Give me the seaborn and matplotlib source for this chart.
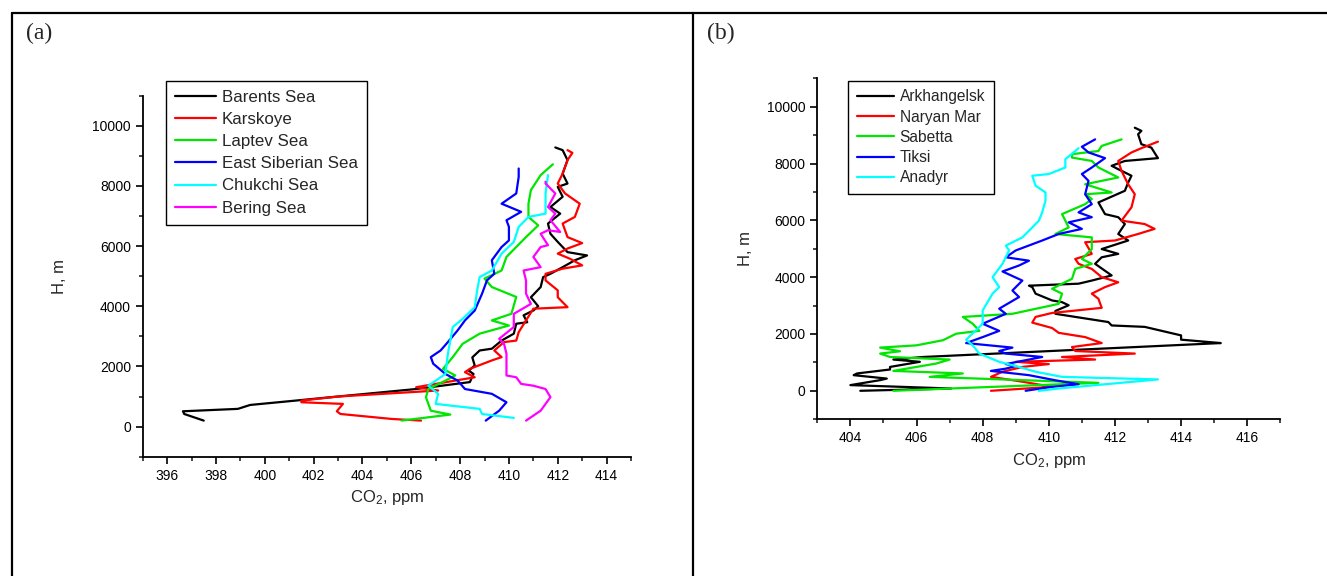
"""CO2 vertical profiles over Arctic seas (a) and coastal stations (b)."""

import seaborn as sns
import matplotlib.pyplot as plt
import pandas as pd
from matplotlib.lines import Line2D
from matplotlib.ticker import MultipleLocator

sns.set_theme(style="ticks")
plt.rcParams['font.family'] = ['Liberation Sans', 'DejaVu Sans']
plt.rcParams['mathtext.fontset'] = 'custom'
plt.rcParams['mathtext.rm'] = 'Liberation Sans'
plt.rcParams['mathtext.it'] = 'Liberation Sans:italic'

# ── Panel (a): seas ────────────────────────────────────────────
seas = ['Barents Sea', 'Karskoye', 'Laptev Sea', 'East Siberian Sea',
        'Chukchi Sea', 'Bering Sea']

barents_co2 = [397.5, 396.7, 396.65, 398.9, 399.4, 406.2, 408.4, 408.55, 408.35,
               408.6, 408.5, 408.8, 409.3, 409.7, 410.2, 410.3, 410.75, 410.6,
               411.0, 411.2, 410.9, 411.3, 411.4, 411.7, 412.2, 412.7, 413.2,
               412.4, 412.0, 411.7, 411.6, 412.1, 411.7, 412.2, 412.0, 412.4,
               412.2, 412.4, 412.2, 411.9]
barents_h = [200, 420, 510, 590, 720, 1250, 1480, 1750, 1860, 2030, 2300, 2530,
             2590, 2860, 3090, 3420, 3470, 3700, 3860, 4000, 4300, 4640, 4970,
             5080, 5300, 5530, 5690, 5800, 6140, 6410, 6750, 7080, 7300, 7640,
             7970, 8080, 8410, 8860, 9190, 9280]

kara_co2 = [406.4, 405.2, 403.1, 402.95, 403.2, 401.5, 401.5, 403.0, 407.1,
            406.2, 407.8, 408.6, 408.2, 408.4, 409.3, 409.7, 409.4, 409.8,
            410.3, 410.4, 410.7, 411.0, 412.4, 412.0, 412.0, 411.5, 411.5,
            412.2, 413.0, 412.5, 412.0, 412.4, 413.0, 412.4, 412.2, 412.7,
            412.9, 412.3, 412.0, 412.2, 412.4, 412.6, 412.4]
kara_h = [200, 255, 420, 510, 755, 810, 865, 1000, 1200, 1310, 1530, 1640,
          1810, 1920, 2200, 2310, 2530, 2810, 2860, 3140, 3530, 3920, 3970,
          4300, 4530, 4860, 5080, 5250, 5360, 5580, 5750, 5920, 6100, 6300,
          6750, 6970, 7410, 7750, 8080, 8410, 8860, 9100, 9190]

laptev_co2 = [405.6, 407.6, 406.8, 406.6, 406.7, 407.4, 407.8, 407.3, 407.7,
              408.1, 408.8, 410.0, 409.3, 410.1, 410.3, 409.3, 409.0, 409.7,
              409.9, 410.3, 410.7, 411.2, 410.8, 410.8, 410.9, 411.3, 411.8]
laptev_h = [200, 400, 530, 980, 1250, 1530, 1700, 1920, 2310, 2750, 3090, 3360,
            3530, 3750, 4310, 4640, 4920, 5190, 5640, 5970, 6300, 6690, 6970,
            7410, 7860, 8360, 8720]

esib_co2 = [409.05, 409.6, 409.9, 409.3, 408.2, 407.9, 407.4, 406.9, 406.8,
            407.2, 407.5, 407.9, 408.2, 408.6, 408.9, 409.1, 409.4, 409.3,
            409.5, 409.7, 410.0, 410.0, 409.9, 410.5, 409.7, 410.3, 410.4, 410.4]
esib_h = [200, 530, 810, 1090, 1250, 1530, 1750, 2090, 2310, 2530, 2810, 3200,
          3530, 3860, 4420, 4860, 5080, 5530, 5750, 5970, 6190, 6640, 6860,
          7140, 7410, 7750, 8300, 8580]

chukchi_co2 = [410.2, 408.9, 408.8, 407.0, 407.1, 406.7, 407.4, 407.5, 407.7,
               408.1, 408.6, 408.7, 408.8, 409.3, 409.7, 410.2, 410.4, 410.8,
               411.5, 411.5, 411.6]
chukchi_h = [290, 420, 590, 755, 1090, 1360, 1750, 2420, 3310, 3580, 3970, 4530,
             4970, 5190, 5750, 6140, 6640, 6970, 7080, 7750, 8360]

bering_co2 = [410.7, 411.3, 411.7, 411.5, 411.0, 410.5, 410.3, 409.9, 409.9,
              409.8, 409.6, 410.2, 410.2, 410.9, 410.7, 410.7, 410.6, 411.3,
              411.0, 411.3, 411.6, 411.3, 411.6, 412.1, 411.7, 411.9, 411.6,
              411.9, 411.5, 411.5]
bering_h = [200, 530, 980, 1250, 1360, 1420, 1640, 1700, 2420, 2750, 2920, 3310,
            3750, 4080, 4420, 4860, 5190, 5300, 5640, 5970, 6030, 6410, 6530,
            6470, 6860, 7080, 7300, 7750, 8080, 8140]

# ── Panel (b): stations ────────────────────────────────────────
stations = ['Arkhangelsk', 'Naryan Mar', 'Sabetta', 'Tiksi', 'Anadyr']

arkh_co2 = [404.3, 407.05, 404.0, 404.9, 405.1, 404.1, 404.2, 405.2, 405.2,
            406.1, 405.3, 406.2, 415.2, 414.8, 414.0, 414.0, 412.9, 411.9,
            411.8, 410.2, 410.2, 410.6, 410.4, 410.1, 409.6, 409.5, 409.4,
            410.9, 411.3, 411.9, 411.4, 411.6, 412.1, 411.6, 412.4, 412.1,
            412.3, 412.1, 411.7, 411.5, 412.3, 412.4, 412.5, 412.1, 411.9,
            412.3, 413.3, 413.1, 412.8, 412.7, 412.8, 412.6]
arkh_h = [0, 80, 200, 375, 430, 550, 610, 750, 840, 1020, 1100, 1190, 1680,
          1720, 1800, 1950, 2250, 2300, 2420, 2710, 2810, 3010, 3120, 3180,
          3420, 3650, 3700, 3770, 3880, 4060, 4470, 4700, 4820, 4990, 5290,
          5520, 5870, 6110, 6220, 6630, 7040, 7330, 7570, 7800, 7920, 8090,
          8190, 8560, 8680, 9030, 9150, 9260]

naryan_co2 = [408.25, 410.1, 409.2, 408.25, 408.6, 409.2, 410.0, 409.0, 411.4,
              410.4, 412.6, 410.8, 410.7, 411.6, 411.1, 410.3, 410.1, 409.5,
              409.6, 410.1, 411.6, 411.5, 411.3, 411.7, 412.1, 411.6, 411.3,
              410.9, 410.8, 411.3, 411.1, 412.0, 412.7, 413.2, 412.9, 412.2,
              412.5, 412.6, 412.4, 412.2, 412.1, 412.5, 412.8, 413.3]
naryan_h = [0, 140, 320, 490, 670, 840, 940, 1020, 1100, 1190, 1310, 1400, 1540,
            1680, 1890, 2040, 2210, 2400, 2600, 2740, 2920, 3240, 3420, 3650,
            3820, 4000, 4290, 4470, 4640, 4820, 5230, 5290, 5520, 5700, 5870,
            5990, 6460, 6920, 7270, 7740, 8090, 8390, 8540, 8770]

sabetta_co2 = [405.3, 407.0, 411.5, 406.4, 407.4, 405.3, 406.6, 407.0, 405.2,
               404.9, 405.5, 404.9, 406.0, 406.8, 407.2, 407.9, 407.7, 407.4,
               408.9, 410.3, 410.4, 410.1, 410.4, 410.7, 410.8, 411.3, 411.0,
               411.3, 411.3, 410.2, 410.6, 410.5, 410.4, 411.1, 411.3, 411.1,
               411.9, 411.1, 412.1, 411.5, 411.3, 410.7, 410.7, 411.5, 411.6,
               412.2]
sabetta_h = [0, 80, 280, 490, 610, 700, 960, 1100, 1190, 1310, 1390, 1520, 1600,
             1780, 2010, 2110, 2360, 2600, 2710, 3060, 3420, 3590, 3770, 3940,
             4290, 4470, 4640, 4990, 5400, 5520, 5750, 5990, 6220, 6570, 6750,
             6920, 6980, 7270, 7510, 7860, 8090, 8210, 8330, 8440, 8620, 8850]

tiksi_co2 = [409.3, 410.1, 410.9, 410.2, 409.4, 408.25, 408.7, 409.0, 408.7,
             409.8, 408.7, 408.5, 408.9, 407.5, 408.0, 408.5, 408.0, 408.7,
             408.5, 409.1, 408.9, 409.2, 408.6, 409.1, 409.4, 408.7, 409.0,
             409.8, 410.3, 411.0, 410.6, 411.3, 410.9, 411.3, 411.1, 411.2,
             411.0, 411.3, 411.7, 411.2, 411.0, 411.4]
tiksi_h = [0, 140, 230, 370, 550, 700, 780, 870, 940, 1190, 1310, 1400, 1520,
           1680, 1890, 2110, 2360, 2710, 2890, 3300, 3530, 3880, 4200, 4410,
           4580, 4700, 4940, 5290, 5520, 5700, 5930, 6110, 6280, 6570, 6920,
           7390, 7630, 7860, 8190, 8390, 8590, 8850]

anadyr_co2 = [409.7, 410.3, 413.3, 410.4, 409.6, 409.1, 408.5, 407.9, 407.7,
              407.5, 407.8, 408.0, 408.0, 408.3, 408.5, 408.3, 408.6, 408.8,
              408.7, 409.2, 409.5, 409.7, 409.8, 409.9, 409.9, 409.6, 409.5,
              410.0, 410.5, 410.5, 410.9]
anadyr_h = [0, 80, 400, 490, 670, 840, 1020, 1310, 1600, 1800, 2130, 2360, 2830,
            3420, 3650, 4000, 4470, 4940, 5110, 5400, 5750, 5990, 6280, 6690,
            6980, 7220, 7570, 7630, 7860, 8150, 8540]

colors_a = ['#000000', '#FF0000', '#00E600', '#0000FF', '#00FFFF', '#FF00FF']
colors_b = ['#000000', '#FF0000', '#00E600', '#0000FF', '#00FFFF']


def profiles(names, series):
    frames = []
    for name, (co2, h) in zip(names, series):
        frames.append(pd.DataFrame({'site': name, 'co2': co2, 'h': h}))
    return pd.concat(frames, ignore_index=True)


df_a = profiles(seas, [(barents_co2, barents_h), (kara_co2, kara_h),
                       (laptev_co2, laptev_h), (esib_co2, esib_h),
                       (chukchi_co2, chukchi_h), (bering_co2, bering_h)])
df_b = profiles(stations, [(arkh_co2, arkh_h), (naryan_co2, naryan_h),
                           (sabetta_co2, sabetta_h), (tiksi_co2, tiksi_h),
                           (anadyr_co2, anadyr_h)])

W, H = 1327, 576
fig = plt.figure(figsize=(W / 100, H / 100), dpi=100)
ax_a = fig.add_axes([142.7 / W, 1 - 456.7 / H, (631 - 142.7) / W, (456.7 - 95.7) / H])
ax_b = fig.add_axes([817.3 / W, 1 - 419.2 / H, (1280.3 - 817.3) / W, (419.2 - 78.3) / H])


def style_axis(ax, df, names, palette, xlim, xmajor, legend_xy, legend_fs,
               legend_sp, ylabel_pad):
    sns.lineplot(data=df, x='co2', y='h', hue='site', hue_order=names,
                 palette=palette, sort=False, estimator=None, lw=1.6, ax=ax)
    ax.set_xlim(*xlim)
    ax.set_ylim(-1000, 11000)
    ax.set_xticks(xmajor)
    ax.xaxis.set_minor_locator(MultipleLocator(1))
    ax.set_yticks(range(0, 10001, 2000))
    ax.yaxis.set_minor_locator(MultipleLocator(1000))
    ax.tick_params(which='major', direction='out', length=5, width=1.2,
                   labelsize=10, colors='black')
    ax.tick_params(which='minor', direction='out', length=3, width=1.2)
    for s in ['left', 'bottom']:
        ax.spines[s].set_linewidth(1.3)
        ax.spines[s].set_color('black')
    sns.despine(ax=ax)
    ax.set_xlabel('CO$_2$, ppm', fontsize=12, labelpad=4)
    ax.set_ylabel('H, m', fontsize=12, labelpad=ylabel_pad)
    handles, labels = ax.get_legend_handles_labels()
    leg = ax.legend(handles, labels, loc='upper left',
                    bbox_to_anchor=(legend_xy[0] / W, 1 - legend_xy[1] / H),
                    bbox_transform=fig.transFigure, borderaxespad=0,
                    fontsize=legend_fs, handlelength=2.4, handletextpad=0.35,
                    labelspacing=legend_sp, borderpad=0.55, fancybox=False,
                    edgecolor='black', framealpha=1)
    leg.get_frame().set_linewidth(1.0)


style_axis(ax_a, df_a, seas, colors_a, (395, 415), range(396, 415, 2),
           (165.7, 80.7), 12.2, 0.42, 18)
style_axis(ax_b, df_b, stations, colors_b, (403, 417), range(404, 417, 2),
           (848.3, 80.7), 11.2, 0.34, 10)

# panel frame and labels
for xs, ys in [([12 / W, 1], [1 - 13 / H, 1 - 13 / H]),
               ([12 / W, 12 / W], [0, 1 - 13 / H]),
               ([693 / W, 693 / W], [0, 1 - 13 / H])]:
    fig.add_artist(Line2D(xs, ys, color='black', lw=1.6,
                          transform=fig.transFigure))
fig.text(26 / W, 1 - 33 / H, '(a)', family='Liberation Serif', fontsize=17,
         va='center', ha='left')
fig.text(707 / W, 1 - 33 / H, '(b)', family='Liberation Serif', fontsize=17,
         va='center', ha='left')

fig.savefig('out.png', dpi=100)
print('Saved out.png')
